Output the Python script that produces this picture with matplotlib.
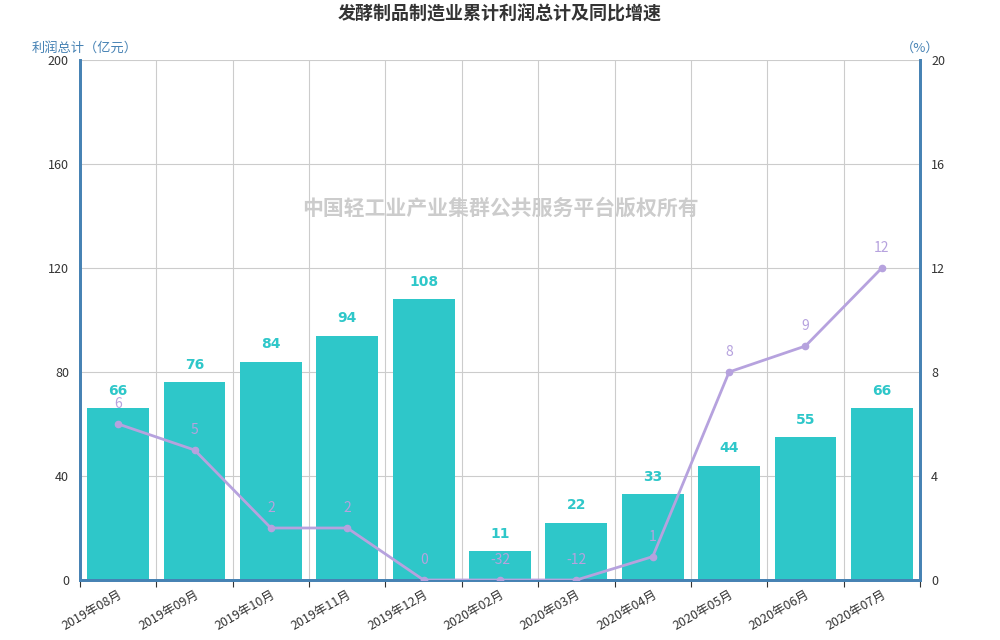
import numpy as np
import matplotlib
matplotlib.use('Agg')
import matplotlib.pyplot as plt

plt.rcParams['font.family'] = ['Noto Sans CJK SC', 'DejaVu Sans']

# 数据
months = ['2019年08月', '2019年09月', '2019年10月', '2019年11月', '2019年12月',
          '2020年02月', '2020年03月', '2020年04月', '2020年05月', '2020年06月', '2020年07月']
profit = [66, 76, 84, 94, 108, 11, 22, 33, 44, 55, 66]
growth = [6, 5, 2, 2, 0, -32, -12, 1, 8, 9, 12]
growth_pos = [6, 5, 2, 2, 0, 0, 0, 0.9, 8, 9, 12]  # 负值在坐标轴底部截断

bar_color = '#2ec7c9'
line_color = '#b6a2de'
axis_color = '#4682b4'
grid_color = '#cccccc'

fig = plt.figure(figsize=(10, 6.4), dpi=100)
ax = fig.add_axes([0.08, 0.09375, 0.84, 0.8125])
ax2 = ax.twinx()

x = np.arange(len(months))
ax.bar(x, profit, width=0.81, color=bar_color, zorder=2)
for xi, v in zip(x, profit):
    ax.text(xi, v + 4, str(v), ha='center', va='bottom', color=bar_color,
            fontsize=10, fontweight='bold', family='DejaVu Sans', zorder=5)

ax.set_xlim(-0.5, len(months) - 0.5)
ax.set_ylim(0, 200)
ax.set_yticks(np.arange(0, 201, 40))
ax.set_xticks(np.arange(-0.5, len(months), 1), minor=False)
ax.set_xticklabels([])
ax.set_xticks(x, minor=True)
ax.set_xticklabels(months, minor=True, rotation=30, ha='right', rotation_mode='anchor',
                   fontsize=9, color='#333333')
ax.tick_params(axis='x', which='minor', length=0, pad=6)
ax.tick_params(axis='x', which='major', length=5, color='#333333')
ax.tick_params(axis='y', length=0, labelsize=9, labelcolor='#333333', pad=8)
ax.grid(True, axis='both', which='major', color=grid_color, linewidth=0.8, zorder=0)
ax.set_axisbelow(True)

ax2.plot(x, growth_pos, color=line_color, linewidth=2, marker='o', markersize=4.5, zorder=4)
for xi, yv, v in zip(x, growth_pos, growth):
    ax2.text(xi, yv + 0.5, str(v), ha='center', va='bottom', color=line_color,
             fontsize=10, zorder=5)
ax2.set_ylim(0, 20)
ax2.set_yticks(np.arange(0, 21, 4))
ax2.tick_params(axis='y', length=0, labelsize=9, labelcolor='#333333', pad=8)

for a in (ax, ax2):
    a.spines['top'].set_visible(False)
    for s in ('left', 'right', 'bottom'):
        a.spines[s].set_color(axis_color)
        a.spines[s].set_linewidth(2)

ax.text(-0.058, 1.01, '利润总计（亿元）', transform=ax.transAxes, ha='left', va='bottom',
        color=axis_color, fontsize=9.5)
ax2.text(1.0, 1.01, '（%）', transform=ax2.transAxes, ha='center', va='bottom',
         color=axis_color, fontsize=9.5)

fig.text(0.5, 0.978, '发酵制品制造业累计利润总计及同比增速', ha='center', va='center',
         fontsize=13, fontweight='bold', color='#333333')
fig.text(0.5, 0.675, '中国轻工业产业集群公共服务平台版权所有', ha='center', va='center',
         fontsize=15, fontweight='bold', color='#cccccc', zorder=10)

fig.savefig('out.png', dpi=100)
